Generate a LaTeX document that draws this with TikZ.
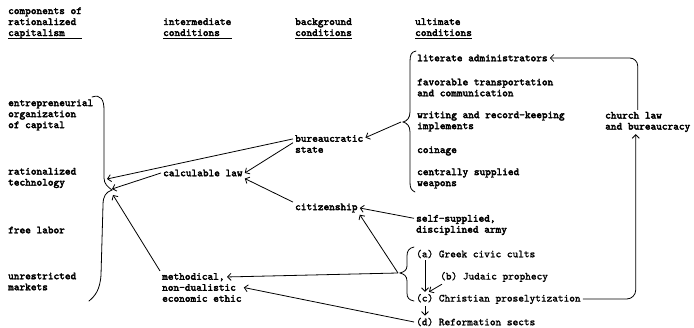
\documentclass[tikz,border=0pt]{standalone}
\usepackage{fontspec}
\usepackage{tikz}
\usetikzlibrary{arrows.meta, calc}
\newfontfamily\typew{lmmono10-regular.otf}[FakeBold=3]
\newfontfamily\typel{lmmono10-regular.otf}[FakeBold=1.5]
\newsavebox\hdbox
\newcommand{\hdrule}[2][0pt]{\sbox\hdbox{#2}\rlap{\rule[-2.6pt]{\dimexpr\wd\hdbox+#1\relax}{0.9pt}}\usebox\hdbox}

\begin{document}
\begin{tikzpicture}[x=1pt, y=-1pt,
  lbl/.style={anchor=west, align=left, inner sep=2pt, font=\typew\fontsize{10.8}{11}\selectfont},
  lite/.style={lbl, font=\typel\fontsize{10.8}{11}\selectfont},
  arr/.style={-{Straight Barb[length=3.5pt, width=7pt]}, line width=0.8pt},
  brc/.style={line width=0.8pt, line cap=round}]
  \useasboundingbox (0,0) rectangle (694,328);

  \node[lbl] (hcomp) at (6,23) {components of\\rationalized\\\hdrule[17pt]{capitalism}};
  \node[lbl] (hinter) at (161,28.5) {intermediate\\\hdrule[12pt]{conditions}};
  \node[lbl] (hback) at (293,28.5) {background\\\hdrule{conditions}};
  \node[lbl] (hult) at (413,28.5) {ultimate\\\hdrule{conditions}};

  \node[lbl] (entre) at (6,115) {entrepreneurial\\organization\\of capital};
  \node[lbl] (ratio) at (6,178) {rationalized\\technology};
  \node[lbl] (freel) at (6,230) {free labor};
  \node[lbl] (unres) at (6,281.5) {unrestricted\\markets};

  \node[lbl] (calclaw) at (161,173) {calculable law};
  \node[lbl] (method) at (160,287.5) {methodical,\\non-dualistic\\economic ethic};
  \node[lbl] (bureau) at (293,144) {bureaucratic\\state};
  \node[lbl] (citizen) at (293,208) {citizenship};

  \node[lbl] (litadm) at (415,58) {literate administrators};
  \node[lbl] (transp) at (415,87.5) {favorable transportation\\and communication};
  \node[lbl] (writing) at (415,121.5) {writing and record-keeping\\implements};
  \node[lbl] (coinage) at (415,151) {coinage};
  \node[lbl] (weapons) at (415,178.5) {centrally supplied\\weapons};
  \node[lbl] (church) at (603,122) {church law\\and bureaucracy};
  \node[lbl] (army) at (414,225) {self-supplied,\\disciplined army};
  \node[lite] (greek) at (414,254) {(a) Greek civic cults};
  \node[lite] (judaic) at (438,277) {(b) Judaic prophecy};
  \node[lite] (christ) at (414,299) {(c) Christian proselytization};
  \node[lite] (reform) at (414,322) {(d) Reformation sects};

  \coordinate (tip1) at (107,179);
  \coordinate (tip2) at (112,189);
  \coordinate (tip3) at (113,195);
  \coordinate (ultip) at (401,122);
  \coordinate (bgtip) at (398,273);

  \draw[brc] (92,97) .. controls (101,94) and (104,100) .. (104,110) -- (104,178)
    .. controls (104,184) and (108,187) .. (112,190)
    .. controls (106,192) and (103,196) .. (103,205) -- (101,275)
    .. controls (100,290) and (95,296) .. (89,301);
  \draw[brc] (416,51) .. controls (411,52) and (410,55) .. (410,62) -- (410,112)
    .. controls (410,118) and (407,121) .. (403,122)
    .. controls (407,123) and (410,126) .. (410,132) -- (410,182)
    .. controls (410,188) and (411,190) .. (415,192);
  \draw[brc] (414,247) .. controls (409,248) and (407,251) .. (407,256) -- (407,266)
    .. controls (407,270) and (404,272) .. (400,273)
    .. controls (404,274) and (407,276) .. (407,281) -- (407,293)
    .. controls (407,298) and (409,300) .. (414,301);

  \draw[arr] (bureau.172) -- (tip1);
  \draw[arr] (bureau.178) -- (calclaw.east);
  \draw[arr] (citizen.170) -- (calclaw.south east);
  \draw[arr] (calclaw.west) -- (tip2);
  \draw[arr] (method.north west) -- (tip3);
  \draw[arr] (ultip) -- (bureau.10);
  \draw[arr] (army.172) -- (citizen.east);
  \draw[arr] (bgtip) -- (citizen.south east);
  \draw[arr] (bgtip) -- ($(method.north west)+(67,6)$);
  \draw[arr] (reform.west) -- (method.east);
  \draw[arr] ([xshift=11pt]greek.south west) -- ([xshift=11pt]christ.north west);
  \draw[arr] ([xshift=4pt]judaic.south west) -- ([xshift=15pt]christ.north west);
  \draw[arr] ([xshift=11pt]christ.south west) -- ([xshift=11pt]reform.north west);
  \draw[arr, rounded corners=9pt] (christ.east) -| ([xshift=-12pt]church.south);
  \draw[arr, rounded corners=8pt] ([xshift=-10pt]church.north) |- (litadm.east);
\end{tikzpicture}
\end{document}
